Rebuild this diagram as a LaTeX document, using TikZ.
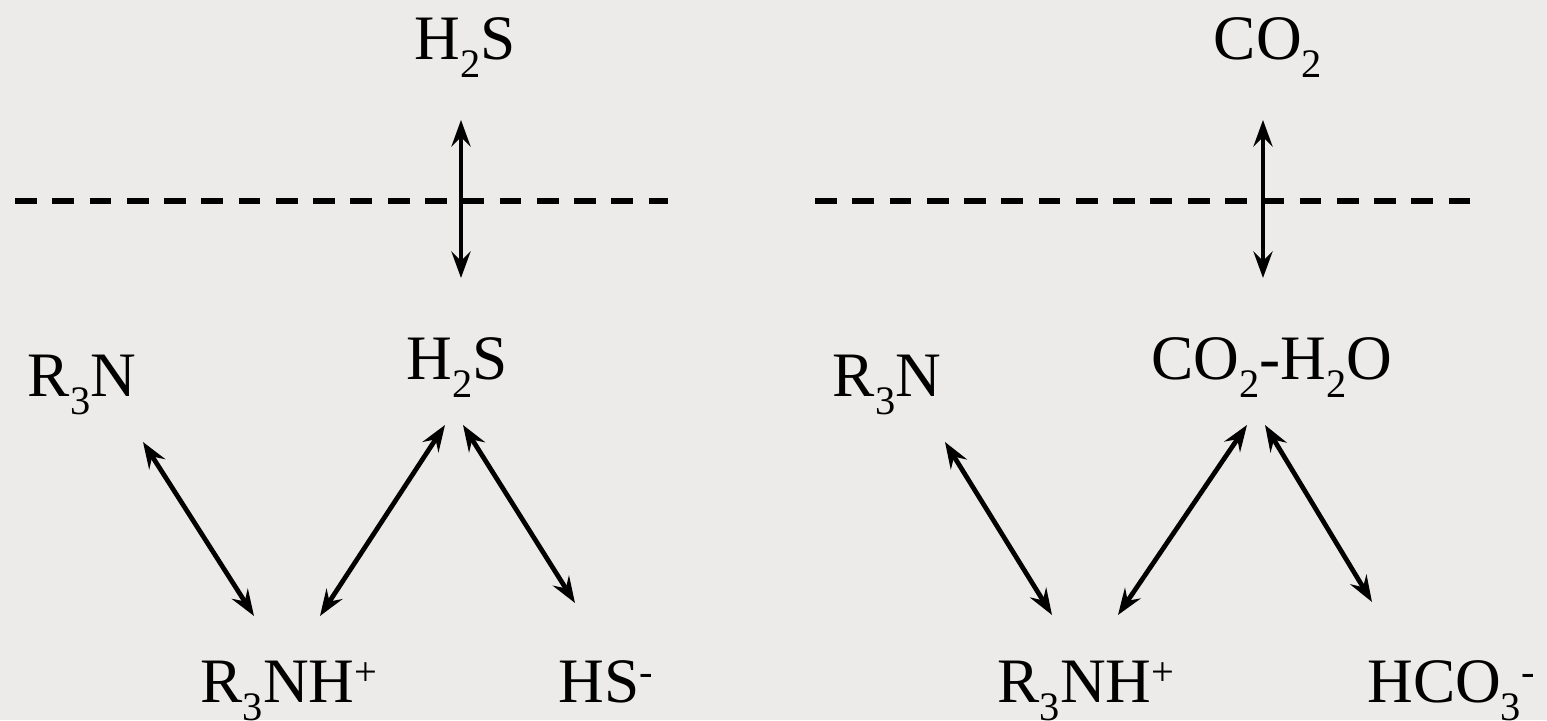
\documentclass[tikz,border=0pt]{standalone}
\usepackage{fontspec}
\setmainfont{Liberation Serif}
\usetikzlibrary{arrows.meta}

\definecolor{paper}{HTML}{ECEBE9}

% chemical sub- and superscripts
\newcommand{\lo}[1]{\raisebox{-0.27em}{\fontsize{11.5}{12}\selectfont #1}}
\newcommand{\hi}[1]{\raisebox{0.27em}{\fontsize{11.5}{12}\selectfont #1}}

\tikzset{
  species/.style={inner sep=0pt,anchor=base,font=\fontsize{18}{21}\selectfont},
  eq/.style={{Stealth[length=7.5pt,width=5.4pt,inset=2.6pt]}-{Stealth[length=7.5pt,width=5.4pt,inset=2.6pt]},line width=1.35pt},
  interface/.style={line width=1.45pt,dash pattern=on 6.2pt off 4.4pt}
}

\begin{document}
\begin{tikzpicture}[x=0.01cm,y=-0.01cm]
\fill[paper] (0,0) rectangle (1547,720);

% H2S side
\node[species] (gasH2S) at (465,60) {H\lo{2}S};
\node[species] (r3nL) at (82,397) {R\lo{3}N};
\node[species] (h2sm) at (457,380) {H\lo{2}S};
\node[species] (amineL) at (289,703) {R\lo{3}NH\hi{+}};
\node[species] (hsL) at (606,703) {HS\hi{-}};

% CO2 side
\node[species] (gasCO2) at (1268,60) {CO\lo{2}};
\node[species] (r3nR) at (887,397) {R\lo{3}N};
\node[species] (co2w) at (1272,380) {CO\lo{2}-H\lo{2}O};
\node[species] (amineR) at (1086,703) {R\lo{3}NH\hi{+}};
\node[species] (hco3) at (1451,703) {HCO\lo{3}\hi{-}};

% gas-liquid interface
\draw[interface] (15,201) -- (668,201);
\draw[interface] (815,201) -- (1470,201);

\draw[eq] ([shift={(-4,60)}]gasH2S.base) -- ([shift={(4,-102)}]h2sm.base);
\draw[eq] ([shift={(61,45)}]r3nL.base) -- ([shift={(-35,-87)}]amineL.base);
\draw[eq] ([shift={(-12,45)}]h2sm.base) -- ([shift={(31,-87)}]amineL.base);
\draw[eq] ([shift={(6,45)}]h2sm.base) -- ([shift={(-31,-100)}]hsL.base);

\draw[eq] ([shift={(-5,60)}]gasCO2.base) -- ([shift={(-9,-102)}]co2w.base);
\draw[eq] ([shift={(58,45)}]r3nR.base) -- ([shift={(-34,-88)}]amineR.base);
\draw[eq] ([shift={(-25,45)}]co2w.base) -- ([shift={(32,-88)}]amineR.base);
\draw[eq] ([shift={(-7,45)}]co2w.base) -- ([shift={(-79,-101)}]hco3.base);
\end{tikzpicture}
\end{document}
